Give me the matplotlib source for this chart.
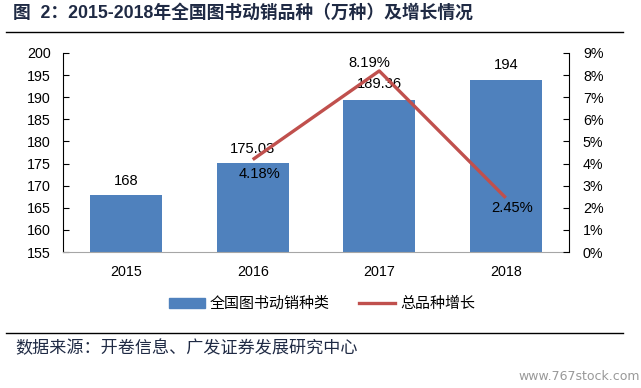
import matplotlib
matplotlib.use("Agg")
import matplotlib.pyplot as plt
from matplotlib.lines import Line2D

years = ["2015", "2016", "2017", "2018"]
titles_count = [168, 175.03, 189.36, 194]
growth_years = ["2016", "2017", "2018"]
growth_pct = [4.18, 8.19, 2.45]
bar_labels = ["168", "175.03", "189.36", "194"]
growth_labels = ["4.18%", "8.19%", "2.45%"]
left_ticks = [155, 160, 165, 170, 175, 180, 185, 190, 195, 200]
right_ticks = [0, 1, 2, 3, 4, 5, 6, 7, 8, 9]

BAR = "#4F81BD"
RED = "#C0504D"
LAT = ["Liberation Sans", "Noto Sans CJK SC", "DejaVu Sans"]
CJK = ["Noto Sans CJK SC", "DejaVu Sans"]

W, H = 641, 388
fig = plt.figure(figsize=(W / 100, H / 100), dpi=100)
ax = fig.add_axes([63 / W, 1 - 252 / H, (569 - 63) / W, (252 - 53) / H])
ax2 = ax.twinx()

x = list(range(len(years)))
ax.bar(x, titles_count, width=0.57, color=BAR, zorder=2)
ax.set_xlim(-0.5, len(years) - 0.5)
ax.set_ylim(155, 200)
ax.set_yticks(left_ticks)
ax.set_yticklabels([str(t) for t in left_ticks], family=LAT, fontsize=10.3)
ax.set_xticks(x)
ax.set_xticklabels(years, family=LAT, fontsize=10.3)
ax.tick_params(axis="x", length=0, pad=9)
ax.tick_params(axis="y", direction="in", length=4, width=0.8, pad=9)
ax.spines["top"].set_visible(False)
ax.spines["right"].set_visible(False)
ax.spines["bottom"].set_color("#A6A6A6")
ax.spines["left"].set_color("black")

gx = [years.index(y) for y in growth_years]
ax2.plot(gx, growth_pct, color=RED, lw=2.4, zorder=3, solid_capstyle="butt")
ax2.set_ylim(0, 9)
ax2.set_yticks(right_ticks)
ax2.set_yticklabels([f"{t}%" for t in right_ticks], family=LAT, fontsize=10.3)
ax2.tick_params(axis="y", direction="in", length=4, width=0.8, pad=10)
ax2.spines["top"].set_visible(False)
ax2.spines["left"].set_visible(False)
ax2.spines["bottom"].set_visible(False)
ax2.spines["right"].set_color("black")

bar_off = [(0, 14), (0, 14), (0, 16), (0, 15)]
for xi, v, lab, off in zip(x, titles_count, bar_labels, bar_off):
    ax.annotate(lab, (xi, v), xytext=off, textcoords="offset pixels",
                ha="center", va="center", family=LAT, fontsize=10.6, color="black", zorder=5)

g_off = [(7, -14), (-10, 8), (6, -10)]
for xi, v, lab, off in zip(gx, growth_pct, growth_labels, g_off):
    ax2.annotate(lab, (xi, v), xytext=off, textcoords="offset pixels",
                 ha="center", va="center", family=LAT, fontsize=10.6, color="black", zorder=5)

# Title
fig.text(13 / W, 1 - 13 / H, "图  2：2015-2018年全国图书动销品种（万种）及增长情况",
         family=["Liberation Sans", "Noto Sans CJK SC"], fontweight="bold",
         fontsize=12.8, color="#1F2A44", ha="left", va="center")
fig.add_artist(Line2D([6 / W, 623 / W], [1 - 32 / H, 1 - 32 / H], color="black", lw=1.0,
                      transform=fig.transFigure))

# Legend
handles = [plt.Rectangle((0, 0), 1, 1, color=BAR), Line2D([], [], color=RED, lw=2.4)]
fig.legend(handles, ["全国图书动销种类", "总品种增长"], loc="center",
           bbox_to_anchor=(322 / W, 1 - 304 / H), ncol=2, frameon=False,
           prop={"family": CJK, "size": 10.8}, handlelength=2.4, handletextpad=0.3,
           columnspacing=2.0)

fig.add_artist(Line2D([6 / W, 623 / W], [1 - 333 / H, 1 - 333 / H], color="black", lw=1.0,
                      transform=fig.transFigure))
fig.text(15 / W, 1 - 348 / H, "数据来源：开卷信息、广发证券发展研究中心",
         family=CJK, fontsize=12.3, color="#1F2A44", ha="left", va="center")
fig.text(640 / W, 1 - 377 / H, "www.767stock.com", family=["DejaVu Sans"],
         fontsize=9, color="#999999", ha="right", va="center")

fig.savefig("out.png", dpi=100)
